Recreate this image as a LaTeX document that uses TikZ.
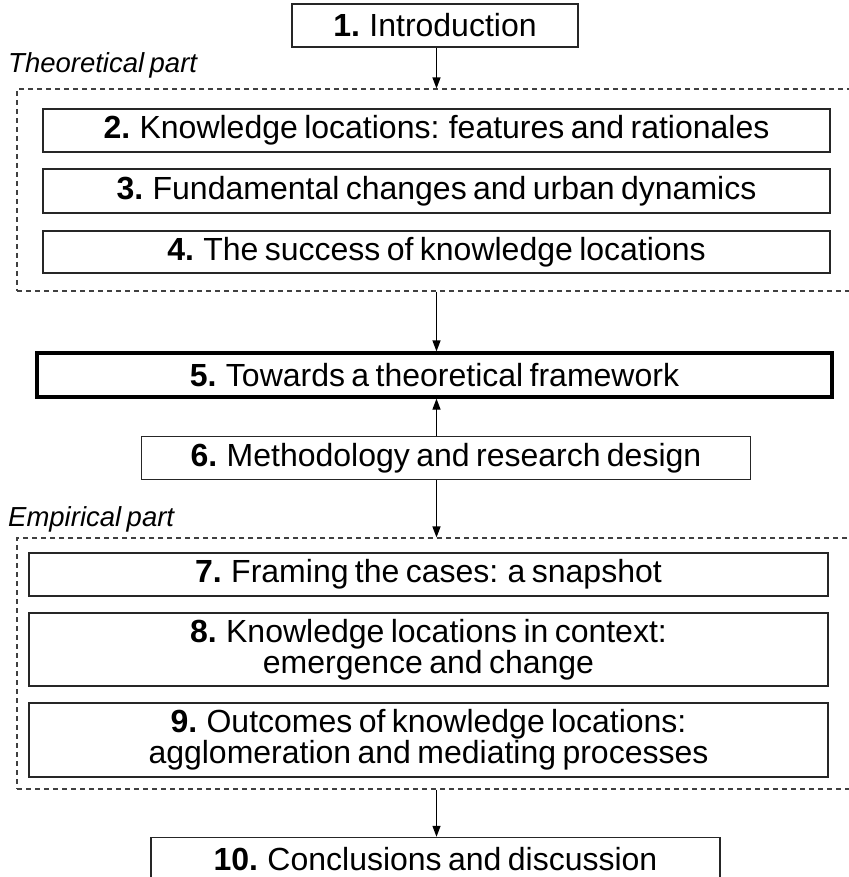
\documentclass[tikz,border=0pt]{standalone}
\usepackage{fontspec}
\setmainfont{Liberation Sans}
\usetikzlibrary{arrows.meta}
% narrow inter-word spacing used for all labels
\newcommand\tightwords{\spaceskip .2em plus .04em\relax}
\begin{document}
\begin{tikzpicture}[x=1pt,y=-1pt,
  chapbox/.style={draw=black!85, line width=1.4pt, fill=white, inner sep=0pt,
    align=center, font=\fontsize{32}{28.5}\selectfont\tightwords},
  keybox/.style={chapbox, line width=3.2pt, draw=black},
  partbox/.style={draw=black!75, line width=1.1pt, dash pattern=on 5pt off 4pt, inner sep=0pt},
  partlabel/.style={anchor=base west, inner sep=0pt,
    font=\fontsize{27.5}{30}\selectfont\itshape\tightwords},
  flow/.style={line width=1.2pt, -{Triangle[length=11pt,width=8pt]}}]
\useasboundingbox (0,0) rectangle (848,877);

% chapter 1
\node[chapbox, minimum width=286pt, minimum height=43pt] (c1) at (435,25.5) {\textbf{1.} Introduction};

% theoretical part
\node[partlabel] (lt) at (8,73) {Theoretical part};
\node[partbox, minimum width=843pt, minimum height=202pt] (theo) at (438.5,190) {};
\node[chapbox, minimum width=787pt, minimum height=43pt] (c2) at (436.5,130.5) {\textbf{2.} Knowledge locations: features and rationales};
\node[chapbox, minimum width=787pt, minimum height=44pt] (c3) at (436.5,191) {\textbf{3.} Fundamental changes and urban dynamics};
\node[chapbox, minimum width=787pt, minimum height=42pt] (c4) at (436.5,252) {\textbf{4.} The success of knowledge locations};

% framework and methodology
\node[keybox, minimum width=795pt, minimum height=44pt] (c5) at (434.5,375) {\textbf{5.} Towards a theoretical framework};
\node[chapbox, minimum width=609pt, minimum height=42.5pt] (c6) at (446,458) {\textbf{6.} Methodology and research design};

% empirical part
\node[partlabel] (le) at (8,526) {Empirical part};
\node[partbox, minimum width=843pt, minimum height=251pt] (emp) at (438.5,663.5) {};
\node[chapbox, minimum width=799pt, minimum height=43pt] (c7) at (428.5,574.5) {\textbf{7.} Framing the cases: a snapshot};
\node[chapbox, minimum width=799pt, minimum height=73pt] (c8) at (428.5,649.5) {\textbf{8.} Knowledge locations in context:\\ emergence and change};
\node[chapbox, minimum width=799pt, minimum height=74pt] (c9) at (428.5,740) {\textbf{9.} Outcomes of knowledge locations:\\ agglomeration and mediating processes};

% chapter 10
\node[chapbox, minimum width=569pt, minimum height=44pt] (c10) at (435.5,859.5) {\textbf{10.} Conclusions and discussion};

% reading order
\draw[flow] (c1.south -| 436.5,0) -- (theo.north -| 436.5,0);
\draw[flow] (theo.south -| 436.5,0) -- (c5.north -| 436.5,0);
\draw[flow] (c6.north -| 436.5,0) -- (c5.south -| 436.5,0);
\draw[flow] (c6.south -| 436.5,0) -- (emp.north -| 436.5,0);
\draw[flow] (emp.south -| 436.5,0) -- (c10.north -| 436.5,0);
\end{tikzpicture}
\end{document}
